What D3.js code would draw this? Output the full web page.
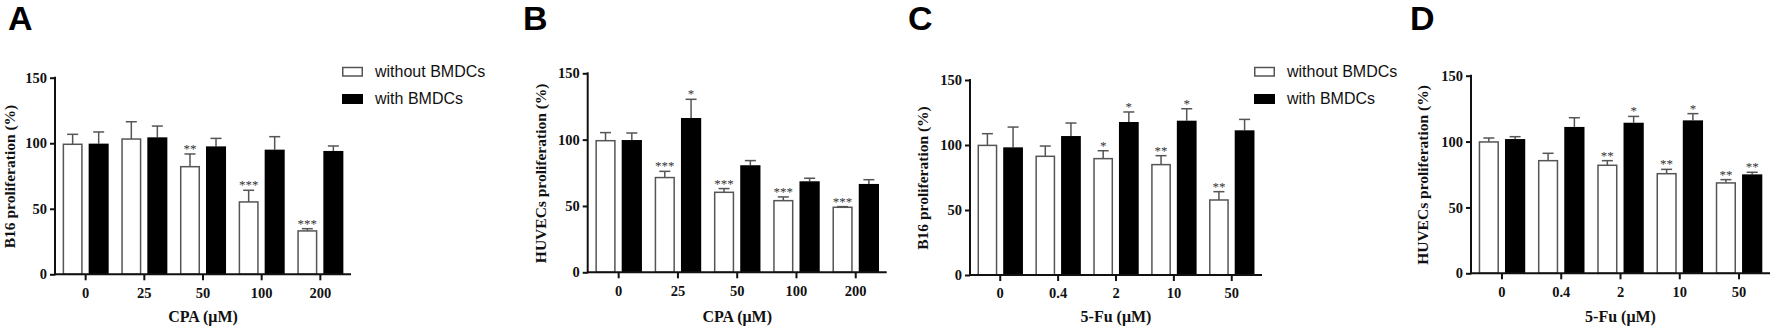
<!DOCTYPE html>
<html>
<head>
<meta charset="utf-8">
<script src="https://cdn.jsdelivr.net/npm/d3@7"></script>
<style>
  body { margin: 0; background: #fff; }
  .tick text { font-family: "Liberation Serif", "Times New Roman", serif; font-weight: bold; font-size: 14.5px; fill: #111; }
  .axis path, .axis line { stroke: #111; stroke-width: 2; }
</style>
</head>
<body>
<div id="chart"></div>
<script>
// doses and groups
var cpaDoses = ["0", "25", "50", "100", "200"];
var fuDoses = ["0", "0.4", "2", "10", "50"];
var groups = ["without BMDCs", "with BMDCs"];
var yTicks = [0, 50, 100, 150];

// panel A - B16, CPA
var aWithout = [99.2, 103.2, 82.1, 55.2, 33.1];
var aWithoutErr = [7.6, 13.2, 9.7, 8.9, 1.7];
var aWith = [99.7, 104.5, 97.6, 95.1, 94.1];
var aWithErr = [8.9, 8.6, 6.1, 9.9, 3.8];
var aWithoutSig = ["", "", "**", "***", "***"];
var aWithSig = ["", "", "", "", ""];

// panel B - HUVECs, CPA
var bWithout = [99.2, 71.4, 60.3, 54.0, 49.0];
var bWithoutErr = [6.1, 4.7, 2.8, 2.8, 0.5];
var bWith = [99.7, 116.3, 80.7, 68.6, 66.6];
var bWithErr = [5.3, 14.1, 3.5, 2.3, 3.2];
var bWithoutSig = ["", "***", "***", "***", "***"];
var bWithSig = ["", "*", "", "", ""];

// panel C - B16, 5-Fu
var cWithout = [99.7, 91.3, 89.5, 84.9, 57.7];
var cWithoutErr = [9.0, 7.9, 6.1, 6.9, 6.4];
var cWith = [98.2, 106.9, 117.7, 118.7, 111.3];
var cWithErr = [15.6, 10.0, 7.7, 9.2, 8.4];
var cWithoutSig = ["", "", "*", "**", "**"];
var cWithSig = ["", "", "*", "*", ""];

// panel D - HUVECs, 5-Fu
var dWithout = [99.7, 85.5, 82.0, 75.6, 68.6];
var dWithoutErr = [3.0, 5.6, 3.5, 3.3, 2.5];
var dWith = [101.9, 111.1, 114.3, 116.1, 75.1];
var dWithErr = [1.8, 7.0, 4.8, 5.1, 1.6];
var dWithoutSig = ["", "", "**", "**", "**"];
var dWithSig = ["", "", "*", "*", "**"];

var panels = [
  { letter: "A", lx: 8, doses: cpaDoses, yLabel: "B16 proliferation (%)", xLabel: "CPA (\u03bcM)",
    left: 55, right: 351, top: 77.7, bottom: 274.3, ylx: 10, legend: 342,
    series: [[aWithout, aWithoutErr, aWithoutSig], [aWith, aWithErr, aWithSig]] },
  { letter: "B", lx: 523, doses: cpaDoses, yLabel: "HUVECs proliferation (%)", xLabel: "CPA (\u03bcM)",
    left: 587.7, right: 886.7, top: 73.3, bottom: 272.3, ylx: 541, legend: null,
    series: [[bWithout, bWithoutErr, bWithoutSig], [bWith, bWithErr, bWithSig]] },
  { letter: "C", lx: 908, doses: fuDoses, yLabel: "B16 proliferation (%)", xLabel: "5-Fu (\u03bcM)",
    left: 970, right: 1262, top: 80, bottom: 275, ylx: 923, legend: 1254,
    series: [[cWithout, cWithoutErr, cWithoutSig], [cWith, cWithErr, cWithSig]] },
  { letter: "D", lx: 1410, doses: fuDoses, yLabel: "HUVECs proliferation (%)", xLabel: "5-Fu (\u03bcM)",
    left: 1471, right: 1770, top: 75.7, bottom: 273.3, ylx: 1423, legend: null,
    series: [[dWithout, dWithoutErr, dWithoutSig], [dWith, dWithErr, dWithSig]] }
];

var fills = ["#fff", "#000"];
var strokes = ["#555", "#000"];

var svg = d3.select("#chart").append("svg")
  .attr("width", 1772).attr("height", 329)
  .style("font-family", "'Liberation Serif', 'Times New Roman', serif");

panels.forEach(function (p) {
  var g = svg.append("g");

  var x = d3.scaleBand().domain(p.doses).range([p.left, p.right])
    .paddingInner(0.215).paddingOuter(0.13);
  var xs = d3.scaleBand().domain(groups).range([0, x.bandwidth()])
    .paddingInner(0.23).paddingOuter(0);
  var y = d3.scaleLinear().domain([0, 150]).range([p.bottom, p.top]);

  // bars, error bars, stars
  p.series.forEach(function (s, si) {
    var vals = s[0], errs = s[1], sig = s[2];
    var sg = g.append("g");
    p.doses.forEach(function (d, i) {
      var bx = x(d) + xs(groups[si]);
      var bw = xs.bandwidth();
      var cx = bx + bw / 2;
      var top = y(vals[i] + errs[i]);
      // whisker (upper only)
      sg.append("line").attr("x1", cx).attr("x2", cx)
        .attr("y1", y(vals[i])).attr("y2", top)
        .attr("stroke", "#555").attr("stroke-width", 1.5);
      sg.append("line").attr("x1", cx - 5.5).attr("x2", cx + 5.5)
        .attr("y1", top).attr("y2", top)
        .attr("stroke", "#555").attr("stroke-width", 1.5);
      sg.append("rect")
        .attr("x", si == 0 ? bx + 0.75 : bx).attr("width", si == 0 ? bw - 1.5 : bw)
        .attr("y", y(vals[i])).attr("height", y(0) - y(vals[i]))
        .attr("fill", fills[si]).attr("stroke", si == 0 ? strokes[si] : "none")
        .attr("stroke-width", 1.5);
      if (sig[i]) {
        sg.append("text").attr("x", cx).attr("y", top - 1)
          .attr("text-anchor", "middle")
          .style("font-size", "13px").style("fill", "#333")
          .text(sig[i]);
      }
    });
  });

  // axes
  g.append("g").attr("class", "axis")
    .attr("transform", "translate(0," + p.bottom + ")")
    .call(d3.axisBottom(x).tickSize(6).tickSizeOuter(0).tickPadding(7))
    .call(function (a) { a.select(".domain").attr("d", "M" + p.left + ",0H" + p.right); });
  g.append("g").attr("class", "axis")
    .attr("transform", "translate(" + p.left + ",0)")
    .call(d3.axisLeft(y).tickValues(yTicks).tickSize(5).tickSizeOuter(0).tickPadding(3))
    .call(function (a) { a.select(".domain").attr("d", "M0," + (p.top - 1) + "V" + (p.bottom + 1)); });

  // axis titles
  g.append("text")
    .attr("transform", "translate(" + p.ylx + "," + ((p.top + p.bottom) / 2 + 0.5) + ") rotate(-90)")
    .attr("dy", "0.35em").attr("text-anchor", "middle")
    .style("font-size", "15.5px").style("font-weight", "bold").style("fill", "#111")
    .text(p.yLabel);
  g.append("text")
    .attr("x", (p.left + p.right) / 2).attr("y", 322)
    .attr("text-anchor", "middle")
    .style("font-size", "16px").style("font-weight", "bold").style("fill", "#111")
    .text(p.xLabel);

  // panel letter
  svg.append("text").attr("x", p.lx).attr("y", 30)
    .style("font-family", "'Liberation Sans', Arial, sans-serif")
    .style("font-size", "34px").style("font-weight", "bold")
    .text(p.letter);

  // legend
  if (p.legend != null) {
    var lg = svg.append("g").attr("transform", "translate(" + p.legend + ",0)");
    groups.forEach(function (name, i) {
      var ly = 67.5 + i * 26.5;
      lg.append("rect").attr("x", i == 0 ? 0.75 : 0).attr("y", ly)
        .attr("width", i == 0 ? 19.5 : 21).attr("height", i == 0 ? 8.5 : 10)
        .attr("fill", fills[i]).attr("stroke", i == 0 ? "#555" : "none").attr("stroke-width", 1.5);
      lg.append("text").attr("x", 33).attr("y", ly + 9.5)
        .style("font-family", "'Liberation Sans', Arial, sans-serif")
        .style("font-size", "16px").style("fill", "#111")
        .text(name);
    });
  }
});
</script>
</body>
</html>
